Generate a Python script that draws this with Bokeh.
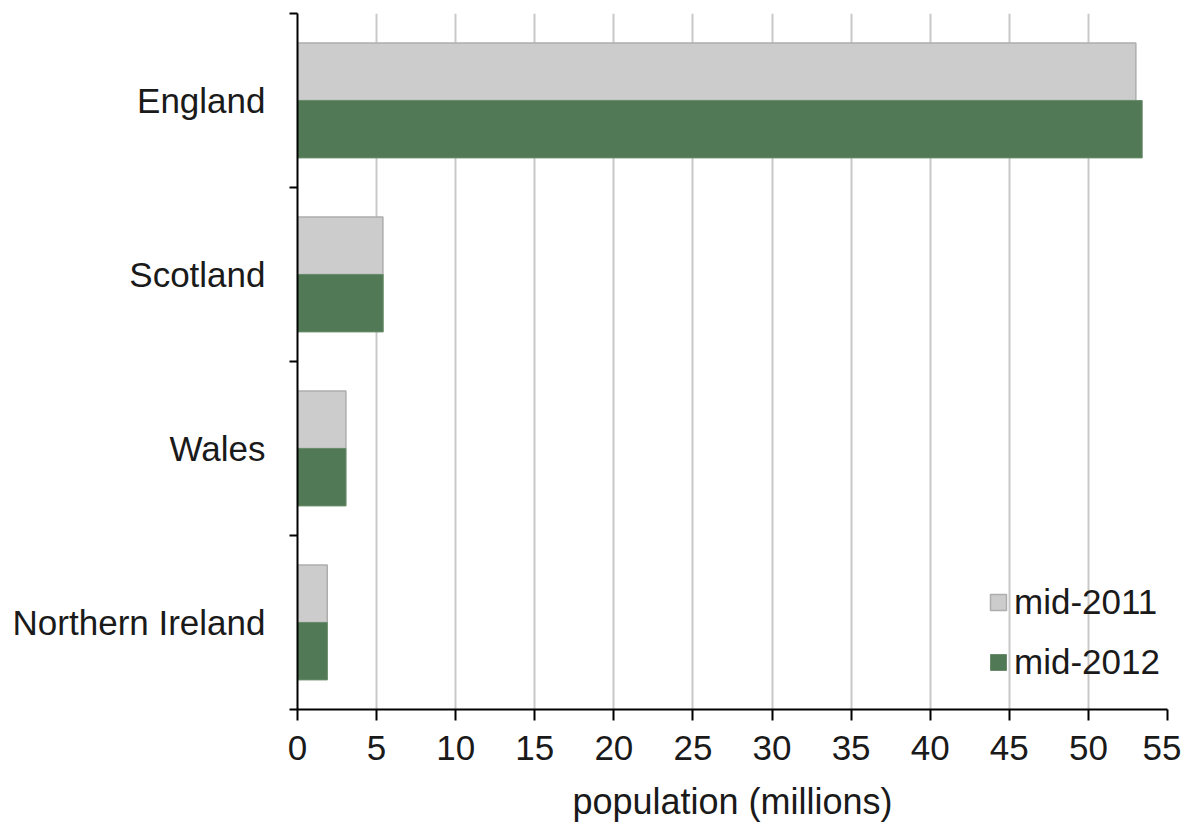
from bokeh.plotting import figure
from bokeh.models import Range1d, FixedTicker, ColumnDataSource
from bokeh.embed import file_html
from bokeh.resources import INLINE

countries = ["England", "Scotland", "Wales", "Northern Ireland"]
pop_2011 = [53.0, 5.4, 3.06, 1.88]
pop_2012 = [53.4, 5.42, 3.07, 1.89]
x_ticks = [0, 5, 10, 15, 20, 25, 30, 35, 40, 45, 50, 55]

n = len(countries)
centers = [n - i - 0.5 for i in range(n)]
bar_h = 0.33
src = ColumnDataSource(dict(
    country=countries,
    y11=[c + bar_h / 2 for c in centers],
    y12=[c - bar_h / 2 for c in centers],
    v11=pop_2011,
    v12=pop_2012,
))

FONT = "Liberation Sans"
TXT = "#1a1a1a"
FS = "35px"

p = figure(width=1181, height=824, output_backend="svg", toolbar_location=None,
           x_range=Range1d(0, 55), y_range=Range1d(0, n),
           min_border_left=297, min_border_right=14, min_border_top=13, min_border_bottom=113)
p.outline_line_color = None
p.background_fill_color = "white"

p.hbar(y="y11", right="v11", left=0, height=bar_h, source=src,
       fill_color="#cccccc", line_color="#adadad", line_width=1.5, legend_label="mid-2011")
p.hbar(y="y12", right="v12", left=0, height=bar_h, source=src,
       fill_color="#527955", line_color="#6a8c6d", line_width=1, legend_label="mid-2012")

# x axis
xa = p.xaxis[0]
xa.ticker = FixedTicker(ticks=x_ticks)
xa.axis_line_color = "black"
xa.axis_line_width = 2
xa.major_tick_line_color = "black"
xa.major_tick_line_width = 2
xa.major_tick_out = 11
xa.major_tick_in = 0
xa.minor_tick_line_color = None
xa.major_label_text_font = FONT
xa.major_label_text_font_size = FS
xa.major_label_text_color = TXT
xa.major_label_standoff = 15
xa.axis_label = "population (millions)"
xa.axis_label_text_font = FONT
xa.axis_label_text_font_size = "36px"
xa.axis_label_text_font_style = "normal"
xa.axis_label_text_color = TXT
xa.axis_label_standoff = 18

# y axis (categories)
ya = p.yaxis[0]
ya.ticker = FixedTicker(ticks=centers, minor_ticks=[float(i) for i in range(n + 1)])
ya.major_label_overrides = {c: name for c, name in zip(centers, countries)}
ya.axis_line_color = "black"
ya.axis_line_width = 2
ya.major_tick_line_color = None
ya.major_tick_out = 0
ya.major_tick_in = 0
ya.minor_tick_line_color = "black"
ya.minor_tick_line_width = 2
ya.minor_tick_out = 8
ya.minor_tick_in = 0
ya.major_label_text_font = FONT
ya.major_label_text_font_size = FS
ya.major_label_text_color = TXT
ya.major_label_standoff = 24

p.xgrid.grid_line_color = "#c8c8c8"
p.xgrid.grid_line_width = 2
p.ygrid.grid_line_color = None

lg = p.legend[0]
lg.location = (691, 27)
lg.border_line_color = None
lg.background_fill_alpha = 0
lg.padding = 0
lg.margin = 0
lg.spacing = 20
lg.label_height = 40
lg.glyph_height = 20
lg.glyph_width = 20
lg.label_standoff = 6
lg.label_text_font = FONT
lg.label_text_font_size = FS
lg.label_text_color = TXT

open("out.html", "w").write(file_html(p, INLINE))
